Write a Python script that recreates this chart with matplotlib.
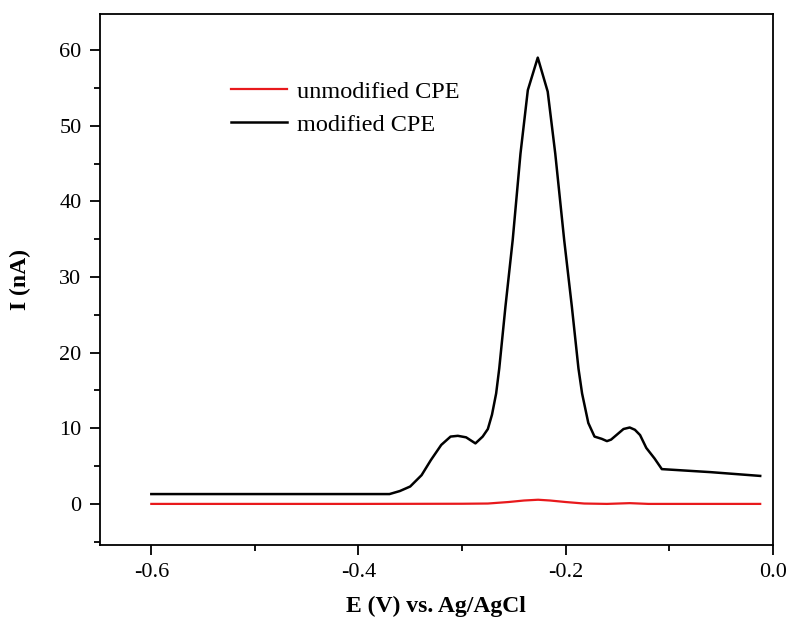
import matplotlib
matplotlib.use('Agg')
import matplotlib.pyplot as plt
from matplotlib.ticker import MultipleLocator

plt.rcParams['font.family'] = ['Liberation Serif', 'DejaVu Serif']

# modified CPE (black)
e_mod = [-0.600, -0.500, -0.400, -0.370, -0.360, -0.350, -0.339, -0.330, -0.320, -0.311,
         -0.304, -0.296, -0.287, -0.280, -0.275, -0.271, -0.267, -0.264, -0.258, -0.251,
         -0.2435, -0.2364, -0.2268, -0.2172, -0.2099, -0.2013, -0.1939, -0.1875, -0.184, -0.178,
         -0.172, -0.165, -0.160, -0.156, -0.150, -0.144, -0.138, -0.133, -0.128, -0.122,
         -0.114, -0.107, -0.060, -0.012]
i_mod = [1.3, 1.3, 1.3, 1.3, 1.7, 2.3, 3.8, 5.8, 7.8, 8.9,
         9.0, 8.8, 8.0, 8.9, 9.9, 11.8, 14.6, 17.9, 26.1, 34.9,
         46.3, 54.7, 59.0, 54.5, 46.3, 34.9, 26.1, 17.9, 14.6, 10.7,
         8.9, 8.6, 8.3, 8.5, 9.2, 9.9, 10.1, 9.8, 9.1, 7.4,
         6.0, 4.6, 4.2, 3.7]

# unmodified CPE (red)
e_unmod = [-0.600, -0.400, -0.300, -0.275, -0.255, -0.240, -0.2265, -0.215, -0.200,
           -0.182, -0.160, -0.138, -0.120, -0.060, -0.012]
i_unmod = [0.0, 0.0, 0.02, 0.05, 0.25, 0.45, 0.55, 0.45, 0.25,
           0.05, 0.0, 0.1, 0.0, 0.0, 0.0]

fig = plt.figure(figsize=(7.9, 6.24), dpi=100)
ax = fig.add_axes([0.126, 0.127, 0.852, 0.851])

ax.plot(e_unmod, i_unmod, color='#e8191c', lw=1.6, label='unmodified CPE')
ax.plot(e_mod, i_mod, color='black', lw=1.8, label='modified CPE')

ax.set_xlim(-0.65, 0.0)
ax.set_ylim(-5.4, 64.8)
ax.xaxis.set_major_locator(MultipleLocator(0.2))
ax.xaxis.set_minor_locator(MultipleLocator(0.1))
ax.yaxis.set_major_locator(MultipleLocator(10))
ax.yaxis.set_minor_locator(MultipleLocator(5))
ax.set_xticks([-0.6, -0.4, -0.2, 0.0])
ax.set_xticklabels(['-0.6', '-0.4', '-0.2', '0.0'])

ax.tick_params(which='both', direction='out', top=False, right=False, labelsize=16, width=1.3)
ax.tick_params(which='major', length=7, pad=6)
ax.tick_params(which='minor', length=4)
for s in ax.spines.values():
    s.set_linewidth(1.3)

ax.set_xlabel('E (V) vs. Ag/AgCl', fontsize=17, fontweight='bold', labelpad=10)
ax.set_ylabel('I (nA)', fontsize=17, fontweight='bold', labelpad=20)

ax.legend(loc='upper left', bbox_to_anchor=(0.163, 0.915), frameon=False, fontsize=17.5,
          handlelength=2.3, handletextpad=0.4, labelspacing=0.45)

fig.savefig('out.png', dpi=100)
